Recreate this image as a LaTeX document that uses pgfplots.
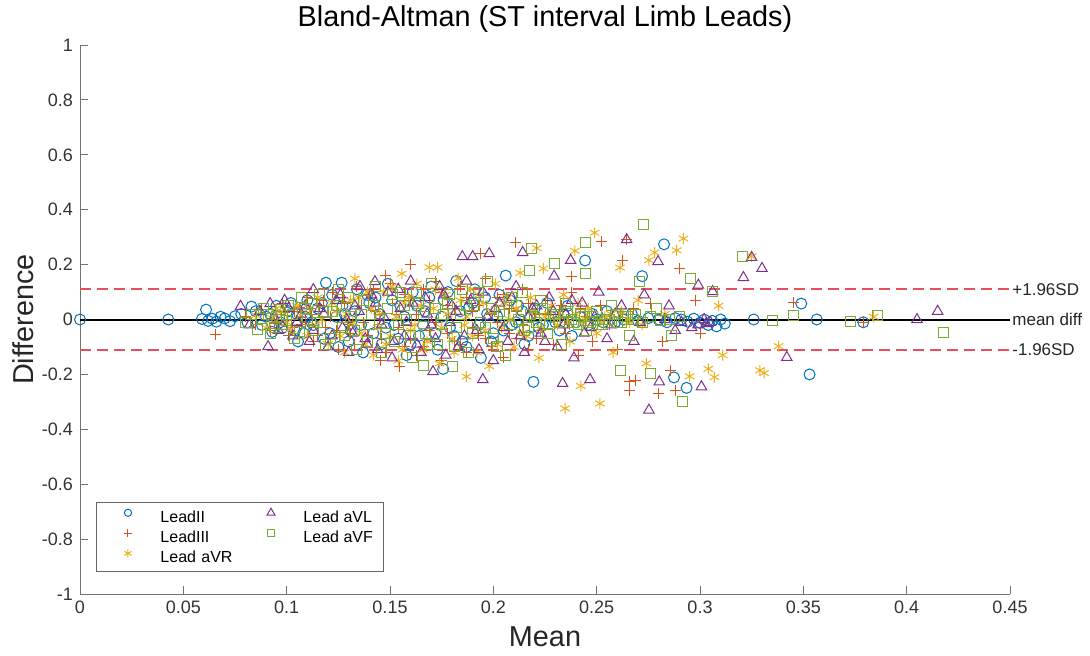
\documentclass[border=0pt]{standalone}
\usepackage{fontspec}
\setmainfont{Liberation Sans}
\usepackage{pgfplots}
\pgfplotsset{compat=1.18}
\definecolor{cII}{RGB}{0,114,189}
\definecolor{cIII}{RGB}{217,83,25}
\definecolor{cVR}{RGB}{237,177,32}
\definecolor{cVL}{RGB}{126,47,142}
\definecolor{cVF}{RGB}{119,172,48}
\definecolor{sdred}{RGB}{228,80,92}
\begin{document}
\begin{tikzpicture}
\useasboundingbox (-40pt,-30.5pt) rectangle (505pt,297pt);
\begin{axis}[
  at={(0,0)}, anchor=south west,
  width=465pt, height=274.5pt, scale only axis,
  xmin=0, xmax=0.45, ymin=-1, ymax=1,
  axis x line*=bottom, axis y line*=left,
  axis line style={black!55, line width=0.5pt},
  tick align=inside, major tick length=4pt,
  tick style={black!55, line width=0.5pt},
  xtick={0,0.05,0.1,0.15,0.2,0.25,0.3,0.35,0.4,0.45},
  xticklabels={0,0.05,0.1,0.15,0.2,0.25,0.3,0.35,0.4,0.45},
  ytick={-1,-0.8,-0.6,-0.4,-0.2,0,0.2,0.4,0.6,0.8,1},
  yticklabels={-1,-0.8,-0.6,-0.4,-0.2,0,0.2,0.4,0.6,0.8,1},
  ticklabel style={font=\fontsize{9}{11}\selectfont, text=black!80},
  title={Bland-Altman (ST interval Limb Leads)},
  every axis title shift=0pt,
  title style={at={(axis description cs:0.5,1.0335)}, anchor=base, yshift=0pt, inner sep=0pt, font=\fontsize{14.4}{16}\selectfont},
  xlabel={Mean},
  xlabel style={at={(axis description cs:0.5,-0.0958)}, anchor=base, inner sep=0pt, font=\fontsize{14.4}{16}\selectfont, text=black!85},
  ylabel={Difference},
  ylabel style={at={(axis description cs:-0.0505,0.5)}, anchor=base, inner sep=0pt, font=\fontsize{14.4}{16}\selectfont, text=black!85},
  legend columns=2,
  legend image code/.code={\path (0pt,0pt) (26pt,0pt); \draw[#1] plot coordinates {(10pt,0.25em)};},
  legend style={at={(axis description cs:0.0172,0.0401)}, anchor=south west,
    draw=black!60, line width=0.5pt, fill=white,
    font=\fontsize{8}{10}\selectfont,
    inner xsep=5.5pt, inner ysep=2.8pt, row sep=1.9pt,
    nodes={inner sep=0pt},
    /tikz/every even column/.append style={text height=6pt, text depth=2pt},
    /tikz/column 2/.append style={text width=45pt}},
  legend cell align=left,
]
% Lead II
\addplot[only marks, mark=o, mark size=2.75pt, cII, line width=0.5pt, forget plot] coordinates {
(0,0) (0.0427,0) (0.059,0.002) (0.061,0.036) (0.062,-0.005) (0.064,0.003) (0.066,-0.008) (0.068,0.010) (0.070,0.004) (0.0726,-0.006) (0.075,0.012) (0.083,0.047) (0.078,0.02) (0.081,-0.01)
(0.085,0.03) (0.088,-0.02) (0.090,0.01) (0.093,-0.045) (0.095,0.05) (0.098,-0.03) (0.1055,-0.08) (0.102,0.06) (0.105,0.02) (0.108,-0.05) (0.110,0.07) (0.112,-0.01) (0.115,0.04) (0.119,0.134) (0.1266,0.134) (0.118,-0.07) (0.122,0.09) (0.125,-0.10) (0.128,0.02) (0.131,-0.04) (0.134,0.11) (0.137,-0.12) (0.140,0.06) (0.143,0.08) (0.146,-0.09) (0.149,0.13) (0.152,-0.02) (0.155,0.05) (0.158,-0.13) (0.161,0.10) (0.164,-0.06) (0.167,0.03) (0.170,0.12) (0.1757,-0.18) (0.173,-0.11) (0.176,0.07) (0.179,-0.03) (0.182,0.14) (0.185,-0.08) (0.188,0.04) (0.191,0.11) (0.194,-0.14) (0.197,0.02) (0.200,-0.05) (0.203,0.09) (0.206,0.16) (0.209,-0.02) (0.212,0.05) (0.215,-0.09) (0.2194,-0.227) (0.218,0.01) (0.222,-0.03) (0.226,0.06) (0.230,-0.01) (0.234,0.02) (0.238,-0.06) (0.2444,0.215) (0.242,0.01) (0.246,-0.02) (0.250,0.00) (0.255,0.03) (0.259,-0.01) (0.263,0.00) (0.267,0.02) (0.272,0.158) (0.270,-0.005) (0.275,0.005) (0.2826,0.274) (0.280,0.00) (0.284,-0.01) (0.2874,-0.211) (0.2935,-0.249) (0.288,0.005) (0.291,0.00) (0.294,-0.008) (0.297,0.003) (0.300,-0.012) (0.302,0.00) (0.304,-0.02) (0.306,-0.005) (0.308,-0.025) (0.310,0.00) (0.312,-0.015) (0.326,0.00) (0.349,0.058) (0.3565,0.00) (0.353,-0.2) (0.379,-0.01)
(0.092,0.02) (0.097,-0.01) (0.101,0.03) (0.104,-0.04) (0.109,0.01) (0.113,-0.02) (0.117,0.06) (0.121,-0.05) (0.124,0.01) (0.127,0.05) (0.130,-0.08) (0.133,0.03) (0.136,-0.02) (0.139,0.09) (0.142,-0.05) (0.145,0.02) (0.148,-0.03) (0.151,0.07) (0.154,-0.07) (0.157,0.01) (0.160,-0.09) (0.163,0.05) (0.166,-0.02) (0.169,0.08) (0.172,-0.05) (0.175,0.01) (0.178,0.10) (0.181,-0.06) (0.184,0.03) (0.187,-0.10) (0.190,0.06) (0.193,-0.02) (0.196,0.08) (0.199,-0.08) (0.202,0.01) (0.205,-0.04) (0.208,0.07) (0.211,-0.01) (0.214,0.03) (0.217,-0.06) (0.220,0.04) (0.224,-0.02) (0.228,0.01) (0.232,-0.04) (0.236,0.05) (0.240,-0.01) (0.248,0.02) (0.253,-0.01)
};
% Lead III
\addplot[only marks, mark=+, mark size=2.75pt, cIII, line width=0.5pt, forget plot] coordinates {
(0.0658,-0.053) (0.080,0.01) (0.085,-0.02) (0.088,0.035) (0.092,-0.04) (0.095,0.02) (0.098,0.06) (0.101,-0.06) (0.104,0.03) (0.107,-0.02) (0.110,0.08) (0.113,-0.08) (0.116,0.05) (0.119,-0.03) (0.122,0.10) (0.125,-0.11) (0.128,0.06) (0.131,-0.05) (0.134,0.12) (0.137,-0.01) (0.140,0.09) (0.1452,-0.148) (0.143,0.03) (0.148,0.161) (0.146,-0.07) (0.150,0.13) (0.1544,-0.17) (0.153,0.02) (0.1597,0.20) (0.157,-0.10) (0.160,0.07) (0.163,-0.13) (0.166,0.11) (0.169,-0.04) (0.172,0.14) (0.175,-0.15) (0.178,0.05) (0.181,-0.08) (0.184,0.12) (0.187,-0.12) (0.190,0.03) (0.194,0.24) (0.193,-0.06) (0.196,0.15) (0.199,-0.10) (0.202,0.08) (0.205,-0.14) (0.2105,0.28) (0.208,0.04) (0.211,-0.07) (0.214,0.11) (0.217,-0.11) (0.220,0.02) (0.223,-0.04) (0.226,0.07) (0.229,-0.09) (0.232,0.03) (0.2379,0.158) (0.235,-0.05) (0.238,0.10) (0.241,-0.13) (0.244,0.01) (0.2524,0.284) (0.248,-0.08) (0.252,0.05) (0.256,-0.02) (0.2627,0.215) (0.2645,0.29) (0.260,-0.11) (0.266,-0.226) (0.269,-0.221) (0.266,-0.259) (0.268,0.04) (0.2797,-0.27) (0.2879,-0.259) (0.2855,-0.185) (0.2903,0.186) (0.276,0.06) (0.282,-0.08) (0.298,0.07) (0.300,-0.05) (0.345,0.062) (0.379,-0.01)
(0.090,0.00) (0.094,-0.015) (0.099,0.025) (0.103,-0.03) (0.106,0.045) (0.109,-0.01) (0.112,0.02) (0.115,-0.06) (0.118,0.07) (0.121,0.01) (0.124,-0.04) (0.127,0.08) (0.130,-0.02) (0.133,-0.09) (0.136,0.05) (0.139,-0.06) (0.142,0.11) (0.145,0.00) (0.148,-0.12) (0.151,0.06) (0.154,-0.03) (0.157,0.09) (0.160,-0.07) (0.163,0.02) (0.166,-0.10) (0.169,0.07) (0.172,-0.01) (0.175,0.10) (0.178,-0.05) (0.181,0.04) (0.184,-0.09) (0.187,0.08) (0.190,-0.03) (0.193,0.05) (0.196,-0.07) (0.199,0.02) (0.202,-0.01) (0.205,0.09) (0.208,-0.05) (0.211,0.03) (0.214,-0.02) (0.217,0.06) (0.221,-0.07) (0.225,0.02) (0.229,0.00) (0.233,0.05) (0.237,-0.02) (0.242,0.04)
};
% Lead aVR
\addplot[only marks, mark=asterisk, mark size=2.75pt, cVR, line width=0.5pt, forget plot] coordinates {
(0.085,0.015) (0.090,-0.03) (0.095,0.04) (0.100,-0.01) (0.105,0.05) (0.110,-0.06) (0.115,0.08) (0.120,-0.09) (0.124,0.03) (0.128,-0.12) (0.133,0.149) (0.131,0.07) (0.136,-0.05) (0.139,0.10) (0.142,-0.13) (0.1557,0.167) (0.145,0.02) (0.148,-0.09) (0.151,0.12) (0.154,-0.15) (0.157,0.06) (0.160,-0.04) (0.169,0.19) (0.173,0.19) (0.163,0.13) (0.166,-0.11) (0.171,0.04) (0.174,-0.16) (0.177,0.09) (0.180,-0.07) (0.183,0.15) (0.187,-0.208) (0.186,-0.02) (0.189,0.11) (0.192,-0.12) (0.195,0.06) (0.198,-0.17) (0.201,0.13) (0.204,-0.03) (0.207,0.08) (0.210,-0.10) (0.213,0.17) (0.221,0.26) (0.216,-0.06) (0.219,0.03) (0.2242,0.186) (0.222,-0.14) (0.225,0.01) (0.228,0.05) (0.231,-0.02) (0.2347,-0.324) (0.234,0.09) (0.2395,0.25) (0.237,-0.08) (0.2423,-0.242) (0.240,0.02) (0.243,-0.01) (0.246,0.04) (0.249,0.316) (0.2516,-0.306) (0.250,-0.05) (0.254,0.01) (0.2613,0.189) (0.258,-0.12) (0.262,0.03) (0.266,-0.01) (0.270,0.07) (0.2753,0.216) (0.278,0.244) (0.274,-0.16) (0.2887,0.252) (0.292,0.295) (0.283,0.02) (0.295,-0.207) (0.304,-0.18) (0.307,-0.21) (0.311,-0.13) (0.309,0.05) (0.325,0.23) (0.329,-0.185) (0.331,-0.195) (0.338,-0.097) (0.384,0.01)
(0.093,0.005) (0.097,0.03) (0.102,-0.035) (0.107,0.015) (0.111,0.04) (0.114,-0.02) (0.117,0.00) (0.122,0.06) (0.126,-0.06) (0.129,0.02) (0.132,-0.01) (0.135,0.08) (0.138,-0.09) (0.141,0.04) (0.144,-0.03) (0.147,0.10) (0.150,-0.06) (0.153,0.01) (0.156,-0.11) (0.159,0.08) (0.162,-0.02) (0.165,0.05) (0.168,-0.08) (0.172,0.11) (0.175,-0.03) (0.178,0.02) (0.181,-0.12) (0.184,0.07) (0.187,0.01) (0.190,-0.06) (0.193,0.09) (0.196,-0.04) (0.199,0.03) (0.202,-0.09) (0.205,0.06) (0.208,0.00) (0.211,0.04) (0.214,-0.05) (0.218,0.08) (0.223,-0.03) (0.227,0.02) (0.232,0.01) (0.236,-0.01) (0.241,0.06) (0.245,0.00) (0.252,-0.01) (0.257,0.02) (0.265,0.00) (0.272,-0.02)
};
% Lead aVL
\addplot[only marks, mark=triangle, mark size=3pt, cVL, line width=0.5pt, forget plot] coordinates {
(0.0777,0.048) (0.082,-0.02) (0.087,0.03) (0.091,-0.099) (0.092,0.058) (0.096,-0.04) (0.099,0.07) (0.103,-0.06) (0.107,0.02) (0.1129,0.109) (0.111,-0.08) (0.116,0.04) (0.120,-0.10) (0.124,0.07) (0.127,-0.03) (0.1355,0.12) (0.1427,0.138) (0.130,-0.12) (0.133,0.05) (0.138,-0.07) (0.141,0.09) (0.144,-0.11) (0.147,0.01) (0.151,-0.14) (0.154,0.11) (0.157,-0.06) (0.160,0.14) (0.163,-0.09) (0.1708,-0.19) (0.167,0.08) (0.170,-0.02) (0.174,0.12) (0.177,-0.13) (0.180,0.05) (0.185,0.229) (0.190,0.229) (0.183,-0.10) (0.187,0.14) (0.1949,-0.219) (0.192,-0.04) (0.195,0.10) (0.198,0.24) (0.200,-0.15) (0.203,0.06) (0.207,-0.08) (0.2142,0.244) (0.211,0.12) (0.215,-0.12) (0.219,0.04) (0.2294,0.158) (0.223,-0.05) (0.2335,-0.233) (0.2374,0.215) (0.227,0.08) (0.231,-0.10) (0.235,0.02) (0.239,-0.14) (0.2468,-0.219) (0.243,0.06) (0.247,-0.03) (0.251,0.10) (0.255,-0.07) (0.259,0.02) (0.2645,0.291) (0.268,-0.08) (0.2797,0.211) (0.2803,-0.227) (0.2753,-0.33) (0.273,0.09) (0.285,0.05) (0.288,-0.04) (0.2992,0.125) (0.3007,-0.245) (0.296,-0.03) (0.302,0.00) (0.3061,0.102) (0.305,-0.01) (0.321,0.153) (0.325,0.226) (0.330,0.186) (0.342,-0.138) (0.405,0.0) (0.415,0.03)
(0.094,0.01) (0.098,-0.025) (0.101,0.04) (0.105,-0.01) (0.109,0.05) (0.113,-0.04) (0.118,0.02) (0.122,-0.06) (0.126,0.09) (0.129,0.00) (0.132,-0.05) (0.135,0.03) (0.139,-0.09) (0.143,0.06) (0.146,-0.02) (0.149,0.10) (0.152,-0.08) (0.155,0.04) (0.158,-0.01) (0.161,0.06) (0.165,-0.12) (0.168,0.02) (0.172,-0.07) (0.176,0.09) (0.179,-0.01) (0.182,0.03) (0.186,-0.06) (0.189,0.07) (0.193,-0.11) (0.197,0.01) (0.201,0.04) (0.205,-0.03) (0.209,0.08) (0.213,-0.06) (0.217,0.01) (0.221,0.05) (0.225,-0.08) (0.229,0.03) (0.234,-0.02) (0.238,0.07) (0.244,-0.05) (0.249,0.01) (0.257,-0.02) (0.262,0.05) (0.271,-0.01) (0.283,0.00) (0.291,-0.01) (0.299,-0.02) (0.303,-0.015)
};
% Lead aVF
\addplot[only marks, mark=square, mark size=2.5pt, cVF, line width=0.5pt, forget plot] coordinates {
(0.080,-0.01) (0.083,0.02) (0.086,-0.035) (0.089,0.04) (0.092,-0.05) (0.095,0.01) (0.098,-0.02) (0.101,0.05) (0.104,-0.07) (0.107,0.08) (0.110,0.00) (0.113,-0.04) (0.116,0.09) (0.119,-0.09) (0.122,0.03) (0.125,0.11) (0.128,-0.06) (0.131,0.01) (0.134,-0.11) (0.137,0.07) (0.140,-0.02) (0.143,0.12) (0.146,-0.12) (0.149,0.04) (0.152,-0.08) (0.155,0.10) (0.158,0.00) (0.161,-0.14) (0.166,-0.166) (0.164,0.06) (0.167,-0.05) (0.170,0.13) (0.173,-0.09) (0.176,0.02) (0.180,-0.171) (0.179,0.09) (0.182,-0.03) (0.185,0.11) (0.188,-0.12) (0.191,0.05) (0.194,-0.01) (0.197,0.14) (0.200,-0.07) (0.203,0.03) (0.206,-0.13) (0.209,0.08) (0.212,0.00) (0.2173,0.18) (0.2186,0.259) (0.215,-0.04) (0.218,0.02) (0.221,-0.01) (0.2298,0.204) (0.224,0.04) (0.227,-0.02) (0.230,0.01) (0.233,-0.09) (0.236,0.03) (0.239,-0.01) (0.2444,0.28) (0.2448,0.168) (0.242,0.02) (0.245,-0.04) (0.248,0.01) (0.251,-0.02) (0.254,0.00) (0.257,0.05) (0.2613,-0.186) (0.260,-0.01) (0.263,0.01) (0.2705,0.138) (0.2726,0.347) (0.266,-0.06) (0.269,0.02) (0.276,-0.197) (0.279,0.04) (0.2916,-0.300) (0.2955,0.149) (0.3061,0.102) (0.286,-0.06) (0.290,0.01) (0.3206,0.229) (0.335,-0.003) (0.345,0.016) (0.3726,-0.006) (0.386,0.016) (0.418,-0.047)
(0.088,0.005) (0.091,0.02) (0.094,-0.03) (0.097,0.035) (0.100,-0.005) (0.103,0.02) (0.106,-0.045) (0.109,0.04) (0.112,0.06) (0.115,-0.01) (0.118,0.03) (0.121,-0.07) (0.124,0.05) (0.127,-0.03) (0.130,0.08) (0.133,-0.04) (0.136,0.02) (0.139,-0.08) (0.142,0.05) (0.145,0.00) (0.148,-0.05) (0.151,0.09) (0.154,-0.02) (0.157,0.05) (0.160,-0.06) (0.163,0.10) (0.166,0.01) (0.169,-0.09) (0.172,0.04) (0.175,-0.02) (0.178,0.06) (0.181,-0.10) (0.184,0.02) (0.187,0.05) (0.190,-0.05) (0.193,0.10) (0.196,-0.03) (0.199,0.04) (0.202,-0.10) (0.205,0.02) (0.208,-0.02) (0.211,0.05) (0.214,0.10) (0.217,-0.03) (0.220,0.01) (0.223,0.07) (0.226,-0.05) (0.229,0.02) (0.232,-0.01) (0.235,0.06) (0.238,0.00) (0.241,-0.02) (0.244,0.01) (0.247,-0.01) (0.250,0.03) (0.253,-0.02) (0.256,0.00) (0.259,0.02) (0.262,-0.01) (0.265,0.01) (0.268,0.00) (0.272,-0.01) (0.276,0.01) (0.281,-0.005) (0.285,0.00)
};
% reference lines
\addplot[sdred, line width=0.9pt, dash pattern=on 5.5pt off 3pt, forget plot] coordinates {(0,0.11) (0.45,0.11)};
\addplot[sdred, line width=0.9pt, dash pattern=on 5.5pt off 3pt, forget plot] coordinates {(0,-0.11) (0.45,-0.11)};
\addplot[black, line width=1pt, forget plot] coordinates {(0,0) (0.45,0)};
\coordinate (sdp) at (axis cs:0.45,0.11);
\coordinate (md) at (axis cs:0.45,0);
\coordinate (sdm) at (axis cs:0.45,-0.11);
% legend
\addlegendimage{only marks, mark=o, mark size=1.8pt, cII, line width=0.5pt}
\addlegendentry{LeadII}
\addlegendimage{only marks, mark=triangle, mark size=2.3pt, cVL, line width=0.5pt}
\addlegendentry{Lead aVL}
\addlegendimage{only marks, mark=+, mark size=2pt, cIII, line width=0.5pt}
\addlegendentry{LeadIII}
\addlegendimage{only marks, mark=square, mark size=1.7pt, cVF, line width=0.5pt}
\addlegendentry{Lead aVF}
\addlegendimage{only marks, mark=asterisk, mark size=2pt, cVR, line width=0.5pt}
\addlegendentry{Lead aVR}
\end{axis}
\node[anchor=west, inner sep=1pt, font=\fontsize{8.5}{10}\selectfont, text=black!85] at (sdp) {+1.96SD};
\node[anchor=west, inner sep=1pt, font=\fontsize{8.5}{10}\selectfont, text=black!85] at (md) {mean diff};
\node[anchor=west, inner sep=1pt, font=\fontsize{8.5}{10}\selectfont, text=black!85] at (sdm) {-1.96SD};
\end{tikzpicture}
\end{document}
